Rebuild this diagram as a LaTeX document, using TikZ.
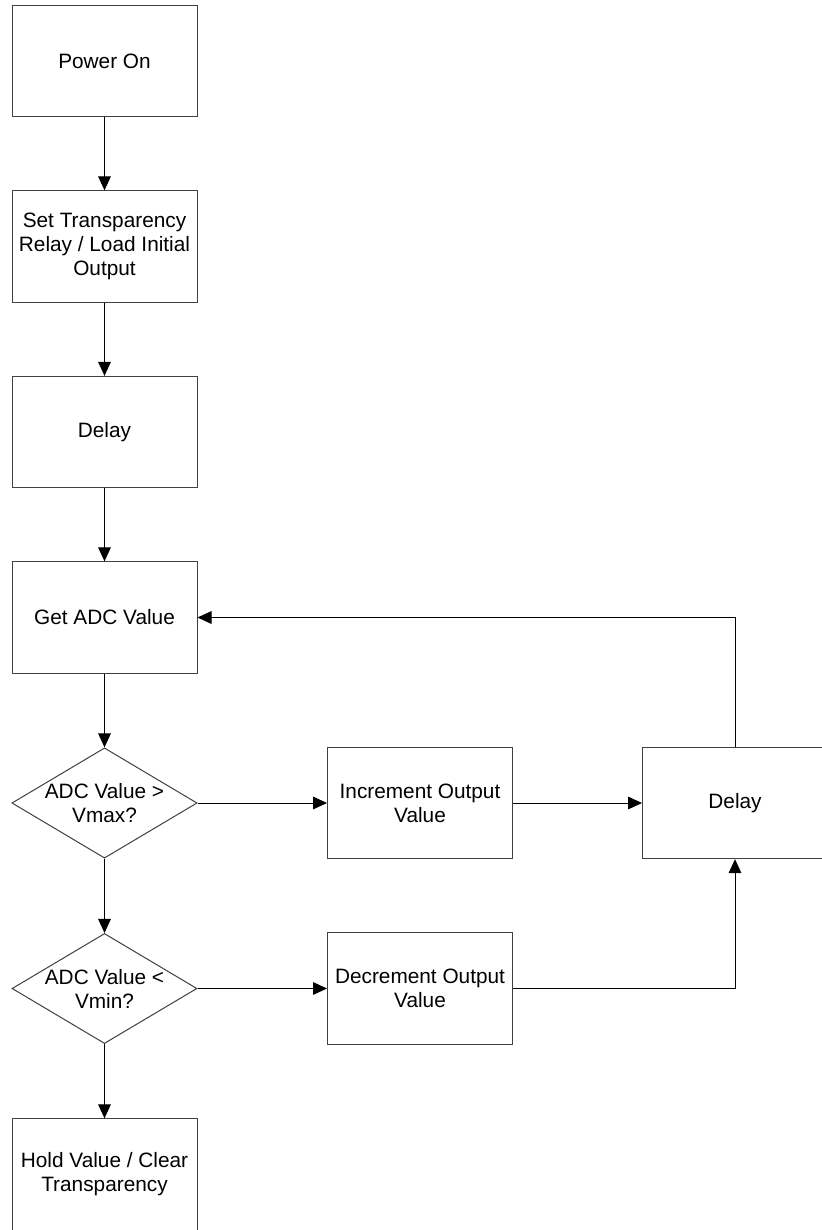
\documentclass[tikz,border=0pt]{standalone}
\usepackage{fontspec}
\setmainfont{Liberation Sans}
\usetikzlibrary{shapes.geometric,arrows.meta}
\begin{document}
\begin{tikzpicture}[x=0.75pt,y=-0.75pt,font=\fontsize{15.6}{18}\selectfont]
        \tikzstyle{block}=[rectangle,draw=black!75,line width=0.75pt,minimum width=138.75pt,minimum height=83.5pt,align=center,inner sep=0pt]
        \tikzstyle{decision}=[diamond,draw=black!75,line width=0.75pt,aspect=1.68,minimum width=138.75pt,minimum height=82.5pt,align=center,inner sep=0pt]
        \tikzstyle{link}=[draw,line width=0.75pt,-{Triangle[length=10.5pt,width=9.5pt]}]
        \useasboundingbox (0,0) rectangle (821,1230);
       \begin{scope}
         \node [block] (pwr) at (104.5,61) {Power On};
         \node [block] (init) at (104.5,246.5) {Set Transparency\\Relay / Load Initial\\Output};
         \node [block] (wait) at (104.5,432) {Delay};
         \node [block] (adc) at (104.5,617.5) {Get ADC Value};
         \node [decision] (gtmax) at (104.5,803) {ADC Value >\\Vmax?};
         \node [decision] (ltmin) at (104.5,988.5) {ADC Value <\\Vmin?};
         \node [block] (hold) at (104.5,1174.5) {Hold Value / Clear\\Transparency};
         \node [block] (inc) at (420,803) {Increment Output\\Value};
         \node [block] (dec) at (420,988.5) {Decrement Output\\Value};
         \node [block] (loop) at (735,803) {Delay};
         \path[link] (pwr) edge (init);
         \path[link] (init) edge (wait);
         \path[link] (wait) edge (adc);
         \path[link] (adc) edge (gtmax);
         \path[link] (gtmax) edge (ltmin);
         \path[link] (ltmin) edge (hold);
         \path[link] (gtmax) edge (inc);
         \path[link] (ltmin) edge (dec);
         \path[link] (inc) edge (loop);
         \draw[link] (dec) -| (loop);
         \draw[link] (loop) |- (adc);
        \end{scope}
      \end{tikzpicture}
\end{document}
